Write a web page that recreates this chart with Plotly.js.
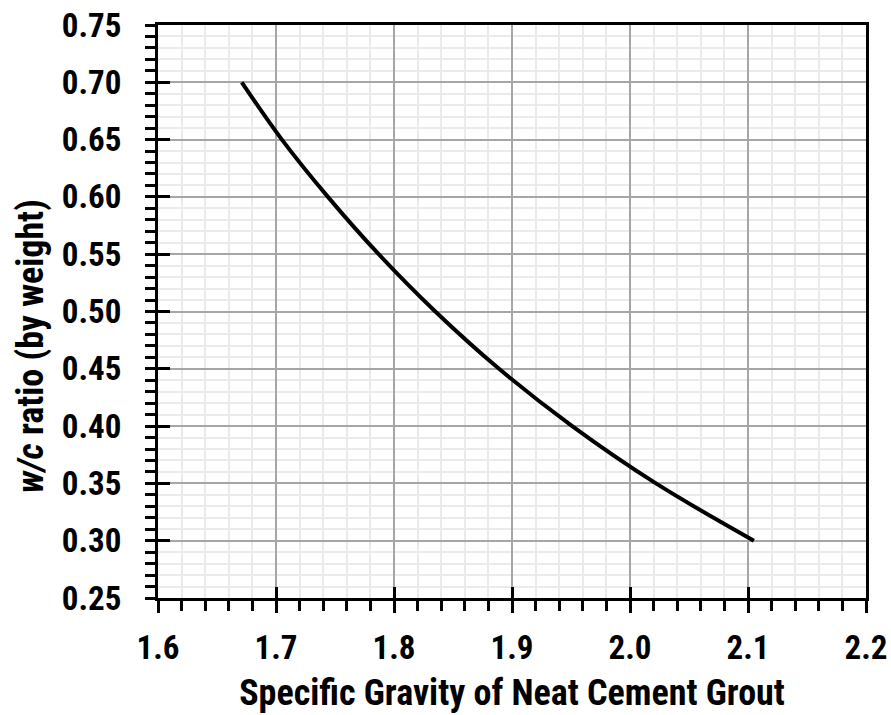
<!DOCTYPE html>
<html>
<head>
<meta charset="utf-8">
<script src="https://cdn.plot.ly/plotly-3.0.1.min.js"></script>
<style>html,body{margin:0;padding:0;background:#fff;}#chart{width:891px;height:715px;}</style>
</head>
<body>
<div id="chart"></div>
<script>
// Data
var specificGravity = [1.671, 1.705, 1.744, 1.787, 1.835, 1.889, 1.951, 2.022, 2.105];
var wcRatio = [0.70, 0.65, 0.60, 0.55, 0.50, 0.45, 0.40, 0.35, 0.30];
var xTickVals = [1.6, 1.7, 1.8, 1.9, 2.0, 2.1, 2.2];
var xTickText = ['1.6', '1.7', '1.8', '1.9', '2.0', '2.1', '2.2'];
var yTickVals = [0.25, 0.30, 0.35, 0.40, 0.45, 0.50, 0.55, 0.60, 0.65, 0.70, 0.75];
var yTickText = ['0.25', '0.30', '0.35', '0.40', '0.45', '0.50', '0.55', '0.60', '0.65', '0.70', '0.75'];
var xTitle = 'Specific Gravity of Neat Cement Grout';
var yTitle = '<i>w/c</i> ratio (by weight)';

var FONT = '"Roboto Condensed", "Open Sans Condensed", sans-serif';
var TICK_FS = 33;
var TITLE_FS = 36;

var trace = {
  x: specificGravity,
  y: wcRatio,
  type: 'scatter',
  mode: 'lines',
  line: {color: '#000000', width: 4, shape: 'spline'},
  hoverinfo: 'skip',
  showlegend: false
};

var layout = {
  width: 891,
  height: 715,
  margin: {l: 158, r: 25, t: 25, b: 117},
  paper_bgcolor: '#ffffff',
  plot_bgcolor: '#ffffff',
  font: {family: FONT, color: '#000000', size: TICK_FS, weight: 'bold'},
  showlegend: false,
  xaxis: {
    range: [1.6, 2.2],
    tickmode: 'array',
    tickvals: xTickVals,
    ticktext: xTickText,
    ticks: 'outside',
    ticklen: 12,
    tickwidth: 3,
    tickcolor: '#000',
    ticklabelstandoff: 6,
    tickfont: {family: FONT, size: TICK_FS, weight: 'bold', color: '#000'},
    showgrid: true,
    gridcolor: '#a6a6a6',
    gridwidth: 2,
    showline: true,
    linecolor: '#000',
    linewidth: 3,
    mirror: true,
    zeroline: false,
    minor: {
      tick0: 1.6, dtick: 0.02,
      ticks: 'outside', ticklen: 10, tickwidth: 3, tickcolor: '#000',
      showgrid: true, gridcolor: '#ebebeb', gridwidth: 2
    },
    title: {text: xTitle, font: {family: FONT, size: TITLE_FS, weight: 'bold', color: '#000'}, standoff: 15}
  },
  yaxis: {
    range: [0.25, 0.75],
    tickmode: 'array',
    tickvals: yTickVals,
    ticktext: yTickText,
    ticks: 'outside',
    ticklen: 10,
    tickwidth: 3,
    tickcolor: '#000',
    ticklabelstandoff: 17,
    tickfont: {family: FONT, size: TICK_FS, weight: 'bold', color: '#000'},
    showgrid: true,
    gridcolor: '#a6a6a6',
    gridwidth: 2,
    showline: true,
    linecolor: '#000',
    linewidth: 3,
    mirror: true,
    zeroline: false,
    minor: {
      tick0: 0.25, dtick: 0.01,
      ticks: 'outside', ticklen: 10, tickwidth: 3, tickcolor: '#000',
      showgrid: true, gridcolor: '#ebebeb', gridwidth: 2
    }
  },
  xaxis2: {
    overlaying: 'x', anchor: 'y', side: 'bottom',
    range: [1.6, 2.2],
    tickmode: 'array', tickvals: xTickVals,
    ticks: 'inside', ticklen: 11, tickwidth: 3, tickcolor: '#000',
    showticklabels: false, showgrid: false, zeroline: false, showline: false
  },
  yaxis2: {
    overlaying: 'y', anchor: 'x', side: 'left',
    range: [0.25, 0.75],
    tickmode: 'array', tickvals: yTickVals,
    ticks: 'inside', ticklen: 12, tickwidth: 3, tickcolor: '#000',
    showticklabels: false, showgrid: false, zeroline: false, showline: false
  },
  annotations: [{
    text: yTitle,
    xref: 'paper', yref: 'paper',
    x: -0.179, y: 0.44,
    xanchor: 'center', yanchor: 'middle',
    textangle: -90,
    showarrow: false,
    font: {family: FONT, size: TITLE_FS, weight: 'bold', color: '#000'}
  }]
};

var dummy = {x: [null], y: [null], xaxis: 'x2', yaxis: 'y2', type: 'scatter', mode: 'lines', showlegend: false, hoverinfo: 'skip'};

Plotly.newPlot('chart', [trace, dummy], layout, {staticPlot: true, displayModeBar: false});
</script>
</body>
</html>
